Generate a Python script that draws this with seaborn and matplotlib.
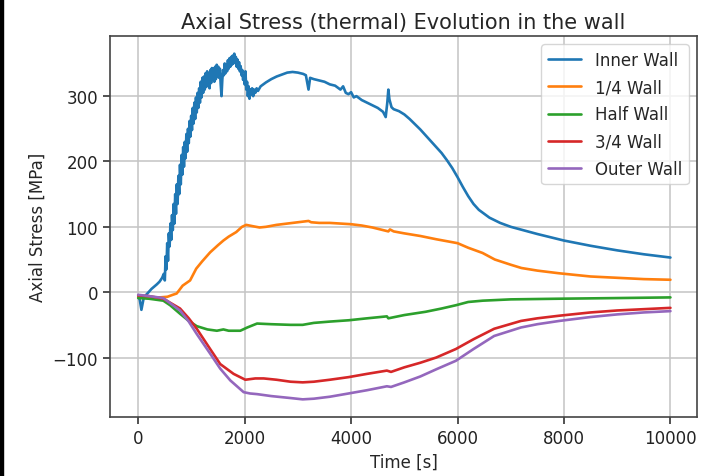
import numpy as np
import pandas as pd
import matplotlib
matplotlib.use("Agg")
import matplotlib.pyplot as plt
import seaborn as sns

# ---- data ----
inner_t = [0, 30, 60, 100, 150, 250, 350, 400, 450, 480,
           500, 515, 530, 545, 560, 575, 590,
           605, 620, 635, 650, 665, 680, 695,
           710, 725, 740, 755, 770, 785, 800,
           815, 830, 845, 860, 875, 890, 905,
           920, 935, 950, 965, 980, 995,
           1010, 1025, 1040, 1055, 1070, 1085, 1100,
           1115, 1130, 1145, 1160, 1175, 1190, 1205,
           1220, 1235, 1250, 1265, 1280, 1295,
           1310, 1325, 1340, 1355, 1370, 1385, 1400,
           1415, 1430, 1445, 1460, 1475, 1490,
           1505, 1520, 1535, 1550, 1565, 1580, 1595,
           1610, 1625, 1640, 1655, 1670, 1685, 1700,
           1715, 1730, 1745, 1760, 1775, 1790,
           1805, 1820, 1835, 1850, 1865, 1880, 1895,
           1910, 1925, 1940, 1955, 1970, 1985,
           2000, 2015, 2030, 2045, 2060, 2075, 2090,
           2105, 2120, 2140, 2160, 2180, 2200, 2225, 2250,
           2300, 2400, 2500, 2600, 2700, 2800, 2900, 3000,
           3100, 3150, 3200, 3230, 3300, 3400, 3500, 3600, 3700, 3800, 3850, 3900, 3950, 4000, 4050, 4100, 4200,
           4300, 4400, 4500, 4600, 4650, 4680, 4700, 4720, 4760, 4800, 4900, 5000, 5100, 5200, 5300, 5400, 5500,
           5600, 5700, 5800, 5900, 6000, 6100, 6200, 6300, 6400, 6500, 6600, 6800, 7000, 7500, 8000, 8500, 9000,
           9500, 10000]
inner_v = [-6, -12, -27, -10, -4, 5, 12, 16, 22, 28,
           18, 55, 35, 75, 48, 90, 70,
           105, 80, 118, 95, 135, 105, 150,
           120, 165, 135, 178, 150, 195, 165,
           210, 180, 222, 192, 230, 205, 242,
           215, 250, 228, 262, 238, 270,
           248, 282, 258, 290, 265, 298, 275,
           305, 282, 312, 290, 322, 298, 328,
           305, 330, 310, 335, 314, 338,
           318, 335, 312, 340, 320, 343, 325,
           342, 322, 345, 326, 348, 330,
           345, 328, 342, 318, 300, 325, 340,
           332, 350, 335, 348, 338, 355, 342,
           358, 345, 360, 348, 362, 350,
           365, 352, 360, 345, 356, 342, 352,
           338, 346, 332, 340, 325, 330,
           318, 338, 310, 322, 300, 315, 296,
           310, 302, 312, 300, 310, 305, 312, 308,
           315, 321, 326, 330, 333, 336, 337, 336,
           334, 332, 310, 328, 326, 324, 322, 318, 316, 310, 315, 305, 303, 306, 298, 300, 294,
           290, 286, 282, 276, 268, 290, 310, 295, 283, 280, 277, 272, 265, 257, 249, 240, 231,
           222, 213, 202, 190, 176, 161, 147, 135, 126, 120, 114, 106, 100, 89, 79, 71, 64,
           58, 53]

quarter_t = [0, 200, 400, 550, 650, 723, 835, 975, 1090, 1200, 1352, 1500, 1600, 1700, 1842, 1950, 2030, 2150,
             2280, 2400, 2600, 2800, 3000, 3200, 3250, 3400, 3600, 3800, 4000, 4200, 4400, 4600, 4700, 4730,
             4800, 5000, 5300, 5600, 5800, 6000, 6200, 6470, 6700, 7000, 7200, 7500, 7900, 8500, 9000, 9500, 10000]
quarter_v = [-8, -8, -8, -7, -4, -2, 10, 18, 36, 47, 61, 72, 79, 85, 92, 100, 103, 101,
             99, 100, 103, 105, 107, 109, 107, 106, 106, 105, 104, 102, 99, 95, 93, 96,
             93, 90, 86, 81, 78, 75, 68, 60, 50, 42, 37, 33, 29, 24, 22, 20, 19]

half_t = [0, 200, 472, 600, 786, 950, 1100, 1300, 1478, 1600, 1700, 1918, 2050, 2233, 2500, 2862, 3090, 3300,
          3600, 3953, 4300, 4672, 4700, 5000, 5400, 5700, 5968, 6200, 6472, 7000, 7912, 9000, 10000]
half_v = [-9, -10, -13, -20, -33, -44, -52, -57, -59, -57, -59, -59, -54, -48, -49, -50, -50, -47,
          -45, -43, -40, -37, -40, -35, -30, -25, -20, -15, -13, -11, -10, -9, -8]

three_q_t = [0, 200, 472, 786, 950, 1100, 1352, 1541, 1792, 2013, 2200, 2358, 2600, 2862, 3090, 3300, 3600,
             3953, 4300, 4672, 4750, 5000, 5300, 5600, 5968, 6300, 6688, 7192, 7500, 7912, 8500, 9000, 9500, 10000]
three_q_v = [-5, -6, -10, -25, -40, -56, -87, -110, -125, -134, -132, -132, -134, -137, -138, -137, -134,
             -130, -125, -120, -122, -115, -108, -100, -87, -72, -56, -44, -40, -36, -31, -28, -26, -24]

outer_t = [0, 200, 472, 786, 950, 1100, 1352, 1541, 1730, 1981, 2100, 2233, 2500, 2862, 3090, 3300, 3600,
           3953, 4300, 4672, 4750, 5000, 5300, 5600, 5968, 6300, 6688, 7192, 7500, 7912, 8500, 9000, 9500, 10000]
outer_v = [-4, -6, -9, -28, -45, -64, -94, -117, -135, -153, -155, -156, -159, -162, -164, -163, -160,
           -155, -150, -144, -145, -138, -129, -118, -105, -87, -67, -54, -49, -44, -38, -34, -31, -29]

labels = ["Inner Wall", "1/4 Wall", "Half Wall", "3/4 Wall", "Outer Wall"]
series_t = [inner_t, quarter_t, half_t, three_q_t, outer_t]
series_v = [inner_v, quarter_v, half_v, three_q_v, outer_v]

frames = [pd.DataFrame({"Time": t, "Stress": v, "Location": lab})
          for t, v, lab in zip(series_t, series_v, labels)]
df = pd.concat(frames, ignore_index=True)

# ---- plot ----
sns.set_style("ticks")
plt.rcParams["font.family"] = ["DejaVu Sans"]
fig = plt.figure(figsize=(7.12, 4.77), dpi=100)
ax = fig.add_axes([0.1545, 0.1237, 0.8245, 0.7987])

palette = ["#1f77b4", "#ff7f0e", "#2ca02c", "#d62728", "#9467bd"]
sns.lineplot(data=df, x="Time", y="Stress", hue="Location", hue_order=labels,
             palette=palette, estimator=None, sort=True, linewidth=1.9, ax=ax)

ax.set_xlim(-530, 10500)
ax.set_ylim(-191, 392)
ax.set_xticks([0, 2000, 4000, 6000, 8000, 10000])
ax.set_yticks([-100, 0, 100, 200, 300])
ax.grid(True, color="#c4c4c4", linewidth=1.1)
ax.set_axisbelow(True)
for s in ax.spines.values():
    s.set_color("#444444")
    s.set_linewidth(1.2)
ax.tick_params(labelsize=12, colors="#222222", length=5, width=1.1)
ax.set_xlabel("Time [s]", fontsize=12)
ax.set_ylabel("Axial Stress [MPa]", fontsize=12)
ax.set_title("Axial Stress (thermal) Evolution in the wall", fontsize=15)
leg = ax.legend(loc="upper right", fontsize=12, framealpha=0.8, labelspacing=0.55)
leg.get_frame().set_edgecolor("#cccccc")

# screenshot edge
fig.patches.append(plt.Rectangle((0, 0), 3 / 712, 1, transform=fig.transFigure,
                                 color="black", zorder=0))

fig.savefig("out.png", dpi=100)
